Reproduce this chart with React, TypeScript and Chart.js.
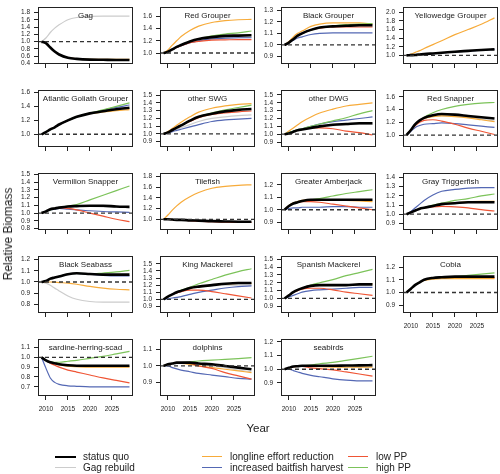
import React, { useEffect, useRef } from "react";
import { Chart, registerables } from "chart.js";

Chart.register(...registerables);

// ---------- shared data ----------
const YEARS = [2009, 2010, 2011, 2012, 2013, 2015, 2017, 2020, 2023, 2026, 2029];
const X_TICKS = [2010, 2015, 2020, 2025];

const SERIES_NAMES = [
  "status quo",
  "Gag rebuild",
  "longline effort reduction",
  "increased baitfish harvest",
  "low PP",
  "high PP",
];
const SERIES_KEYS = ["sq", "gr", "ll", "bf", "lo", "hi"];
const SERIES_COLORS = ["#000000", "#cccccc", "#f7ab3a", "#5468b4", "#ef5535", "#7cc35a"];

// ---------- per-panel values ----------
// Gag
const gag_sq = [1.0, 0.96, 0.84, 0.73, 0.65, 0.56, 0.53, 0.51, 0.505, 0.5, 0.5];
const gag_gr = [1.0, 1.1, 1.25, 1.37, 1.46, 1.6, 1.66, 1.69, 1.7, 1.7, 1.7];
const gag_ll = [1.0, 0.96, 0.84, 0.73, 0.65, 0.565, 0.535, 0.515, 0.515, 0.52, 0.52];
const gag_ticks = [0.4, 0.6, 0.8, 1.0, 1.2, 1.4, 1.6, 1.8];

// Red Grouper
const rgr_sq = [1.0, 1.02, 1.06, 1.1, 1.13, 1.19, 1.23, 1.26, 1.28, 1.285, 1.29];
const rgr_gr = [1.0, 1.02, 1.05, 1.09, 1.12, 1.17, 1.2, 1.23, 1.245, 1.25, 1.255];
const rgr_ll = [1.0, 1.05, 1.13, 1.2, 1.27, 1.37, 1.44, 1.5, 1.53, 1.545, 1.55];
const rgr_bf = [1.0, 1.02, 1.06, 1.09, 1.12, 1.17, 1.2, 1.23, 1.245, 1.25, 1.25];
const rgr_lo = [1.0, 1.02, 1.06, 1.09, 1.12, 1.17, 1.19, 1.21, 1.215, 1.22, 1.22];
const rgr_hi = [1.0, 1.02, 1.06, 1.1, 1.13, 1.19, 1.23, 1.28, 1.31, 1.33, 1.36];
const rgr_ticks = [1.0, 1.2, 1.4, 1.6];

// Black Grouper
const bgr_sq = [1.0, 1.02, 1.05, 1.08, 1.1, 1.13, 1.15, 1.16, 1.165, 1.17, 1.17];
const bgr_ll = [1.0, 1.03, 1.07, 1.1, 1.12, 1.16, 1.18, 1.19, 1.19, 1.19, 1.18];
const bgr_bf = [1.0, 1.02, 1.04, 1.06, 1.07, 1.09, 1.1, 1.105, 1.105, 1.105, 1.105];
const bgr_lo = [1.0, 1.02, 1.05, 1.08, 1.1, 1.13, 1.145, 1.155, 1.155, 1.155, 1.155];
const bgr_hi = [1.0, 1.02, 1.05, 1.08, 1.1, 1.13, 1.15, 1.165, 1.175, 1.18, 1.185];
const bgr_ticks = [0.9, 1.0, 1.1, 1.2, 1.3];

// Yellowedge Grouper
const ygr_sq = [1.0, 1.005, 1.01, 1.02, 1.03, 1.045, 1.06, 1.085, 1.105, 1.125, 1.14];
const ygr_ll = [1.0, 1.03, 1.07, 1.11, 1.16, 1.25, 1.34, 1.48, 1.6, 1.72, 1.87];
const ygr_bf = [1.0, 1.005, 1.01, 1.015, 1.025, 1.04, 1.055, 1.08, 1.1, 1.12, 1.14];
const ygr_ticks = [1.0, 1.2, 1.4, 1.6, 1.8, 2.0];

// Atlantic Goliath Grouper
const agg_sq = [1.0, 1.03, 1.07, 1.1, 1.14, 1.2, 1.25, 1.3, 1.33, 1.36, 1.38];
const agg_ll = [1.0, 1.03, 1.07, 1.1, 1.14, 1.2, 1.25, 1.295, 1.32, 1.34, 1.355];
const agg_bf = [1.0, 1.03, 1.07, 1.1, 1.14, 1.2, 1.25, 1.3, 1.345, 1.385, 1.42];
const agg_hi = [1.0, 1.03, 1.07, 1.1, 1.14, 1.2, 1.25, 1.305, 1.35, 1.4, 1.45];
const agg_ticks = [1.0, 1.2, 1.4, 1.6];

// other SWG
const swg_sq = [1.0, 1.02, 1.05, 1.08, 1.11, 1.17, 1.22, 1.26, 1.29, 1.31, 1.32];
const swg_gr = [1.0, 1.02, 1.04, 1.06, 1.08, 1.12, 1.16, 1.2, 1.22, 1.235, 1.245];
const swg_ll = [1.0, 1.03, 1.07, 1.11, 1.15, 1.22, 1.28, 1.33, 1.36, 1.38, 1.39];
const swg_bf = [1.0, 1.01, 1.03, 1.045, 1.06, 1.09, 1.12, 1.16, 1.18, 1.19, 1.2];
const swg_lo = [1.0, 1.02, 1.05, 1.08, 1.11, 1.16, 1.21, 1.25, 1.27, 1.285, 1.295];
const swg_hi = [1.0, 1.02, 1.05, 1.08, 1.11, 1.17, 1.22, 1.27, 1.31, 1.34, 1.37];
const swg_ticks = [0.9, 1.0, 1.1, 1.2, 1.3, 1.4, 1.5];

// other DWG
const dwg_sq = [1.0, 1.01, 1.03, 1.05, 1.06, 1.08, 1.1, 1.12, 1.13, 1.14, 1.14];
const dwg_gr = [1.0, 1.01, 1.03, 1.05, 1.06, 1.08, 1.095, 1.11, 1.12, 1.125, 1.125];
const dwg_ll = [1.0, 1.04, 1.08, 1.12, 1.16, 1.22, 1.27, 1.32, 1.36, 1.38, 1.4];
const dwg_bf = [1.0, 1.02, 1.04, 1.06, 1.07, 1.1, 1.13, 1.16, 1.18, 1.2, 1.22];
const dwg_lo = [1.0, 1.01, 1.03, 1.05, 1.06, 1.08, 1.08, 1.07, 1.04, 1.02, 0.99];
const dwg_hi = [1.0, 1.02, 1.04, 1.06, 1.07, 1.1, 1.13, 1.17, 1.21, 1.26, 1.3];
const dwg_ticks = [0.9, 1.0, 1.1, 1.2, 1.3, 1.4, 1.5];

// Red Snapper
const rsn_sq = [1.0, 1.08, 1.17, 1.23, 1.27, 1.31, 1.33, 1.32, 1.3, 1.28, 1.26];
const rsn_gr = [1.0, 1.08, 1.17, 1.23, 1.265, 1.295, 1.305, 1.3, 1.28, 1.25, 1.22];
const rsn_ll = [1.0, 1.08, 1.17, 1.23, 1.26, 1.29, 1.3, 1.29, 1.27, 1.24, 1.21];
const rsn_bf = [1.0, 1.06, 1.12, 1.15, 1.17, 1.18, 1.19, 1.18, 1.16, 1.14, 1.12];
const rsn_lo = [1.0, 1.08, 1.15, 1.2, 1.23, 1.24, 1.22, 1.17, 1.11, 1.06, 1.01];
const rsn_hi = [1.0, 1.08, 1.17, 1.23, 1.28, 1.35, 1.4, 1.45, 1.48, 1.5, 1.51];
const rsn_ticks = [1.0, 1.2, 1.4, 1.6];

// Vermilion Snapper
const vsn_sq = [1.0, 1.02, 1.05, 1.06, 1.07, 1.085, 1.09, 1.095, 1.095, 1.085, 1.08];
const vsn_gr = [1.0, 1.02, 1.05, 1.06, 1.07, 1.08, 1.085, 1.085, 1.08, 1.075, 1.07];
const vsn_bf = [1.0, 1.02, 1.04, 1.05, 1.06, 1.05, 1.04, 1.03, 1.02, 1.015, 1.01];
const vsn_lo = [1.0, 1.02, 1.05, 1.06, 1.07, 1.06, 1.04, 1.0, 0.96, 0.92, 0.89];
const vsn_hi = [1.0, 1.02, 1.04, 1.06, 1.07, 1.09, 1.11, 1.17, 1.23, 1.29, 1.35];
const vsn_ticks = [0.8, 0.9, 1.0, 1.1, 1.2, 1.3, 1.4, 1.5];

// Tilefish
const til_sq = [1.0, 1.0, 0.995, 0.99, 0.99, 0.98, 0.975, 0.965, 0.96, 0.955, 0.955];
const til_ll = [1.0, 1.08, 1.17, 1.25, 1.32, 1.42, 1.5, 1.58, 1.615, 1.635, 1.645];
const til_lo = [1.0, 1.0, 0.995, 0.99, 0.985, 0.975, 0.965, 0.955, 0.945, 0.94, 0.94];
const til_ticks = [1.0, 1.2, 1.4, 1.6, 1.8];

// Greater Amberjack
const gam_sq = [1.0, 1.03, 1.05, 1.06, 1.07, 1.08, 1.08, 1.08, 1.08, 1.08, 1.08];
const gam_ll = [1.0, 1.035, 1.055, 1.065, 1.075, 1.08, 1.08, 1.08, 1.075, 1.07, 1.065];
const gam_bf = [1.0, 1.01, 1.015, 1.015, 1.02, 1.02, 1.02, 1.025, 1.025, 1.02, 1.02];
const gam_lo = [1.0, 1.03, 1.05, 1.06, 1.065, 1.065, 1.06, 1.045, 1.03, 1.015, 1.0];
const gam_hi = [1.0, 1.03, 1.05, 1.06, 1.07, 1.08, 1.09, 1.11, 1.13, 1.145, 1.16];
const gam_ticks = [0.9, 1.0, 1.1, 1.2];

// Gray Triggerfish
const gtf_sq = [1.0, 1.02, 1.04, 1.06, 1.07, 1.09, 1.11, 1.12, 1.13, 1.13, 1.13];
const gtf_ll = [1.0, 1.02, 1.04, 1.06, 1.07, 1.09, 1.11, 1.125, 1.135, 1.14, 1.14];
const gtf_bf = [1.0, 1.03, 1.07, 1.11, 1.15, 1.21, 1.25, 1.27, 1.285, 1.29, 1.29];
const gtf_lo = [1.0, 1.02, 1.04, 1.06, 1.07, 1.08, 1.085, 1.08, 1.07, 1.05, 1.035];
const gtf_hi = [1.0, 1.02, 1.04, 1.06, 1.07, 1.1, 1.12, 1.15, 1.17, 1.2, 1.22];
const gtf_ticks = [0.9, 1.0, 1.1, 1.2, 1.3, 1.4];

// Black Seabass
const bsb_sq = [1.0, 1.01, 1.03, 1.04, 1.05, 1.07, 1.078, 1.072, 1.066, 1.066, 1.066];
const bsb_gr = [1.0, 0.99, 0.97, 0.945, 0.92, 0.875, 0.845, 0.825, 0.82, 0.82, 0.82];
const bsb_ll = [1.0, 1.0, 1.0, 0.998, 0.995, 0.99, 0.98, 0.96, 0.945, 0.935, 0.93];
const bsb_bf = [1.0, 1.01, 1.03, 1.04, 1.05, 1.07, 1.078, 1.07, 1.06, 1.055, 1.055];
const bsb_hi = [1.0, 1.01, 1.03, 1.04, 1.05, 1.07, 1.078, 1.072, 1.08, 1.09, 1.105];
const bsb_ticks = [0.8, 0.9, 1.0, 1.1, 1.2];

// King Mackerel
const kmk_sq = [1.0, 1.04, 1.07, 1.1, 1.12, 1.16, 1.18, 1.2, 1.22, 1.23, 1.23];
const kmk_gr = [1.0, 1.04, 1.07, 1.09, 1.11, 1.15, 1.17, 1.19, 1.2, 1.2, 1.2];
const kmk_ll = [1.0, 1.04, 1.07, 1.1, 1.12, 1.16, 1.18, 1.2, 1.215, 1.225, 1.225];
const kmk_bf = [1.0, 1.01, 1.02, 1.03, 1.04, 1.07, 1.1, 1.13, 1.16, 1.18, 1.19];
const kmk_lo = [1.0, 1.04, 1.07, 1.09, 1.11, 1.13, 1.13, 1.11, 1.08, 1.05, 1.02];
const kmk_hi = [1.0, 1.04, 1.07, 1.1, 1.13, 1.17, 1.22, 1.28, 1.34, 1.39, 1.43];
const kmk_ticks = [0.9, 1.0, 1.1, 1.2, 1.3, 1.4, 1.5];

// Spanish Mackerel
const smk_sq = [1.0, 1.04, 1.08, 1.11, 1.13, 1.16, 1.17, 1.17, 1.17, 1.18, 1.18];
const smk_ll = [1.0, 1.04, 1.08, 1.11, 1.13, 1.16, 1.17, 1.17, 1.175, 1.18, 1.185];
const smk_bf = [1.0, 1.02, 1.04, 1.06, 1.08, 1.1, 1.11, 1.12, 1.13, 1.14, 1.14];
const smk_lo = [1.0, 1.04, 1.08, 1.1, 1.12, 1.13, 1.13, 1.11, 1.08, 1.06, 1.04];
const smk_hi = [1.0, 1.04, 1.08, 1.11, 1.13, 1.17, 1.2, 1.24, 1.29, 1.33, 1.37];
const smk_ticks = [0.9, 1.0, 1.1, 1.2, 1.3, 1.4, 1.5];

// Cobia
const cob_sq = [1.0, 1.03, 1.06, 1.08, 1.1, 1.115, 1.12, 1.125, 1.125, 1.125, 1.125];
const cob_ll = [1.0, 1.03, 1.06, 1.08, 1.095, 1.105, 1.11, 1.11, 1.11, 1.11, 1.11];
const cob_lo = [1.0, 1.03, 1.06, 1.08, 1.1, 1.115, 1.12, 1.12, 1.12, 1.12, 1.118];
const cob_hi = [1.0, 1.03, 1.06, 1.08, 1.1, 1.115, 1.12, 1.125, 1.135, 1.145, 1.155];
const cob_ticks = [0.9, 1.0, 1.1, 1.2];

// sardine-herring-scad
const shs_sq = [1.0, 0.97, 0.95, 0.94, 0.93, 0.92, 0.915, 0.915, 0.915, 0.915, 0.915];
const shs_gr = [1.0, 0.97, 0.95, 0.935, 0.925, 0.91, 0.905, 0.905, 0.905, 0.905, 0.905];
const shs_ll = [1.0, 0.97, 0.95, 0.935, 0.925, 0.91, 0.905, 0.9, 0.9, 0.9, 0.9];
const shs_bf = [1.0, 0.89, 0.79, 0.745, 0.725, 0.71, 0.705, 0.7, 0.7, 0.7, 0.7];
const shs_lo = [1.0, 0.97, 0.94, 0.92, 0.9, 0.87, 0.85, 0.82, 0.79, 0.765, 0.74];
const shs_hi = [1.0, 0.97, 0.955, 0.95, 0.95, 0.96, 0.97, 0.99, 1.01, 1.035, 1.06];
const shs_ticks = [0.7, 0.8, 0.9, 1.0, 1.1];

// dolphins
const dol_sq = [1.0, 1.01, 1.015, 1.02, 1.02, 1.02, 1.015, 1.01, 1.0, 0.99, 0.98];
const dol_gr = [1.0, 1.01, 1.015, 1.02, 1.02, 1.015, 1.01, 1.0, 0.99, 0.975, 0.965];
const dol_ll = [1.0, 1.01, 1.015, 1.015, 1.015, 1.01, 1.0, 0.99, 0.98, 0.97, 0.96];
const dol_bf = [1.0, 1.0, 0.99, 0.982, 0.975, 0.965, 0.955, 0.945, 0.935, 0.925, 0.92];
const dol_lo = [1.0, 1.01, 1.015, 1.015, 1.015, 1.015, 1.0, 0.985, 0.96, 0.94, 0.92];
const dol_hi = [1.0, 1.01, 1.015, 1.02, 1.02, 1.025, 1.03, 1.035, 1.04, 1.045, 1.05];
const dol_ticks = [0.9, 1.0, 1.1];

// seabirds
const sbd_sq = [1.0, 1.01, 1.02, 1.022, 1.025, 1.025, 1.025, 1.025, 1.027, 1.028, 1.03];
const sbd_ll = [1.0, 1.01, 1.018, 1.02, 1.02, 1.02, 1.018, 1.016, 1.015, 1.015, 1.015];
const sbd_bf = [1.0, 1.0, 0.99, 0.98, 0.97, 0.955, 0.945, 0.93, 0.92, 0.915, 0.915];
const sbd_lo = [1.0, 1.01, 1.018, 1.02, 1.02, 1.01, 1.005, 0.995, 0.98, 0.965, 0.95];
const sbd_hi = [1.0, 1.01, 1.02, 1.022, 1.025, 1.03, 1.04, 1.05, 1.065, 1.08, 1.095];
const sbd_ticks = [0.9, 1.0, 1.1, 1.2];

// ---------- panel table ----------
type Panel = {
  title: string;
  row: number;
  col: number;
  yMin: number;
  yMax: number;
  ticks: number[];
  xLabels: boolean;
  series: { [k: string]: number[] | undefined };
};

const PANELS: Panel[] = [
  { title: "Gag", row: 0, col: 0, yMin: 0.39, yMax: 1.95, ticks: gag_ticks, xLabels: false, series: { sq: gag_sq, gr: gag_gr, ll: gag_ll } },
  { title: "Red Grouper", row: 0, col: 1, yMin: 0.82, yMax: 1.755, ticks: rgr_ticks, xLabels: false, series: { sq: rgr_sq, gr: rgr_gr, ll: rgr_ll, bf: rgr_bf, lo: rgr_lo, hi: rgr_hi } },
  { title: "Black Grouper", row: 0, col: 2, yMin: 0.836, yMax: 1.328, ticks: bgr_ticks, xLabels: false, series: { sq: bgr_sq, ll: bgr_ll, bf: bgr_bf, lo: bgr_lo, hi: bgr_hi } },
  { title: "Yellowedge Grouper", row: 0, col: 3, yMin: 0.8, yMax: 2.124, ticks: ygr_ticks, xLabels: false, series: { sq: ygr_sq, ll: ygr_ll, bf: ygr_bf } },
  { title: "Atlantic Goliath Grouper", row: 1, col: 0, yMin: 0.817, yMax: 1.637, ticks: agg_ticks, xLabels: false, series: { sq: agg_sq, ll: agg_ll, bf: agg_bf, hi: agg_hi } },
  { title: "other SWG", row: 1, col: 1, yMin: 0.831, yMax: 1.567, ticks: swg_ticks, xLabels: false, series: { sq: swg_sq, gr: swg_gr, ll: swg_ll, bf: swg_bf, lo: swg_lo, hi: swg_hi } },
  { title: "other DWG", row: 1, col: 2, yMin: 0.837, yMax: 1.565, ticks: dwg_ticks, xLabels: false, series: { sq: dwg_sq, gr: dwg_gr, ll: dwg_ll, bf: dwg_bf, lo: dwg_lo, hi: dwg_hi } },
  { title: "Red Snapper", row: 1, col: 3, yMin: 0.814, yMax: 1.707, ticks: rsn_ticks, xLabels: false, series: { sq: rsn_sq, gr: rsn_gr, ll: rsn_ll, bf: rsn_bf, lo: rsn_lo, hi: rsn_hi } },
  { title: "Vermilion Snapper", row: 2, col: 0, yMin: 0.781, yMax: 1.519, ticks: vsn_ticks, xLabels: false, series: { sq: vsn_sq, gr: vsn_gr, bf: vsn_bf, lo: vsn_lo, hi: vsn_hi } },
  { title: "Tilefish", row: 2, col: 1, yMin: 0.8, yMax: 1.867, ticks: til_ticks, xLabels: false, series: { sq: til_sq, ll: til_ll, lo: til_lo } },
  { title: "Greater Amberjack", row: 2, col: 2, yMin: 0.838, yMax: 1.295, ticks: gam_ticks, xLabels: false, series: { sq: gam_sq, ll: gam_ll, bf: gam_bf, lo: gam_lo, hi: gam_hi } },
  { title: "Gray Triggerfish", row: 2, col: 3, yMin: 0.828, yMax: 1.45, ticks: gtf_ticks, xLabels: false, series: { sq: gtf_sq, ll: gtf_ll, bf: gtf_bf, lo: gtf_lo, hi: gtf_hi } },
  { title: "Black Seabass", row: 3, col: 0, yMin: 0.722, yMax: 1.234, ticks: bsb_ticks, xLabels: false, series: { sq: bsb_sq, gr: bsb_gr, ll: bsb_ll, bf: bsb_bf, hi: bsb_hi } },
  { title: "King Mackerel", row: 3, col: 1, yMin: 0.81, yMax: 1.61, ticks: kmk_ticks, xLabels: false, series: { sq: kmk_sq, gr: kmk_gr, ll: kmk_ll, bf: kmk_bf, lo: kmk_lo, hi: kmk_hi } },
  { title: "Spanish Mackerel", row: 3, col: 2, yMin: 0.815, yMax: 1.542, ticks: smk_ticks, xLabels: false, series: { sq: smk_sq, ll: smk_ll, bf: smk_bf, lo: smk_lo, hi: smk_hi } },
  { title: "Cobia", row: 3, col: 3, yMin: 0.838, yMax: 1.289, ticks: cob_ticks, xLabels: true, series: { sq: cob_sq, ll: cob_ll, lo: cob_lo, hi: cob_hi } },
  { title: "sardine-herring-scad", row: 4, col: 0, yMin: 0.606, yMax: 1.188, ticks: shs_ticks, xLabels: true, series: { sq: shs_sq, gr: shs_gr, ll: shs_ll, bf: shs_bf, lo: shs_lo, hi: shs_hi } },
  { title: "dolphins", row: 4, col: 1, yMin: 0.818, yMax: 1.164, ticks: dol_ticks, xLabels: true, series: { sq: dol_sq, gr: dol_gr, ll: dol_ll, bf: dol_bf, lo: dol_lo, hi: dol_hi } },
  { title: "seabirds", row: 4, col: 2, yMin: 0.804, yMax: 1.222, ticks: sbd_ticks, xLabels: true, series: { sq: sbd_sq, ll: sbd_ll, bf: sbd_bf, lo: sbd_lo, hi: sbd_hi } },
];

// ---------- layout ----------
const COL_LEFT = [38, 160, 281, 403];
const ROW_TOP = [0, 83, 166, 249, 332];
const BOX_W = 95;
const BOX_H = 64;
const AX_W = 30;
const AX_H = 20;
const PAD_T = 1;
const PAD_R = 3;
const X_MIN = 2008.2;
const X_MAX = 2029.8;
const FONT = "'Liberation Sans', Arial, sans-serif";
const INK = "#222222";

const panelDecor = {
  id: "panelDecor",
  afterDatasetsDraw(chart: any, _args: any, opts: any) {
    const { ctx, chartArea, scales } = chart;
    const { left, right, top, bottom } = chartArea;
    ctx.save();
    // reference line at 1
    const y1 = scales.y.getPixelForValue(1);
    ctx.beginPath();
    ctx.setLineDash([4, 3]);
    ctx.lineWidth = 1.3;
    ctx.strokeStyle = "#333333";
    ctx.moveTo(left, y1);
    ctx.lineTo(right, y1);
    ctx.stroke();
    ctx.setLineDash([]);
    // box
    ctx.lineWidth = 1;
    ctx.strokeStyle = INK;
    ctx.strokeRect(Math.round(left) + 0.5, Math.round(top) + 0.5, Math.round(right - left) - 1, Math.round(bottom - top) - 1);
    // title
    ctx.fillStyle = INK;
    ctx.font = `8px ${FONT}`;
    ctx.textAlign = "center";
    ctx.textBaseline = "middle";
    ctx.fillText(opts.title, (left + right) / 2, top + 8.5);
    ctx.restore();
  },
};

function PanelChart({ p }: { p: Panel }) {
  const ref = useRef<HTMLCanvasElement | null>(null);
  useEffect(() => {
    if (!ref.current) return;
    const datasets: any[] = [];
    SERIES_KEYS.forEach((k, i) => {
      const vals = p.series[k];
      if (!vals) return;
      datasets.push({
        label: SERIES_NAMES[i],
        data: YEARS.map((yr, j) => ({ x: yr, y: vals[j] })),
        borderColor: SERIES_COLORS[i],
        borderWidth: i === 0 ? 2.6 : 1.2,
        pointRadius: 0,
        fill: false,
        cubicInterpolationMode: "monotone",
        order: i === 0 ? 0 : 10 - i,
      });
    });
    const chart = new Chart(ref.current, {
      type: "line",
      data: { datasets },
      plugins: [panelDecor],
      options: {
        animation: false,
        responsive: false,
        maintainAspectRatio: false,
        devicePixelRatio: 1,
        layout: { padding: { top: PAD_T, right: PAD_R, left: 0, bottom: 0 } },
        plugins: {
          legend: { display: false },
          tooltip: { enabled: false },
          title: { display: false },
          panelDecor: { title: p.title },
        } as any,
        scales: {
          x: {
            type: "linear",
            min: X_MIN,
            max: X_MAX,
            afterBuildTicks: (s: any) => {
              s.ticks = X_TICKS.map((v) => ({ value: v }));
            },
            afterFit: (s: any) => {
              s.height = AX_H;
            },
            grid: { drawOnChartArea: false, drawTicks: true, tickLength: 4, color: INK, lineWidth: 1 },
            border: { display: false },
            ticks: {
              autoSkip: false,
              maxRotation: 0,
              padding: 5,
              color: p.xLabels ? INK : "rgba(0,0,0,0)",
              font: { size: 6.5, family: FONT },
              callback: (v: any) => String(v),
            },
          },
          y: {
            type: "linear",
            min: p.yMin,
            max: p.yMax,
            afterBuildTicks: (s: any) => {
              s.ticks = p.ticks.map((v) => ({ value: v }));
            },
            afterFit: (s: any) => {
              s.width = AX_W;
            },
            grid: { drawOnChartArea: false, drawTicks: true, tickLength: 4, color: INK, lineWidth: 1 },
            border: { display: false },
            ticks: {
              autoSkip: false,
              padding: 4,
              color: INK,
              font: { size: 6.5, family: FONT },
              callback: (v: any) => Number(v).toFixed(1),
            },
          },
        },
      } as any,
    });
    return () => chart.destroy();
  }, [p]);

  const w = AX_W + BOX_W + PAD_R;
  const h = PAD_T + BOX_H + AX_H;
  return (
    <canvas
      ref={ref}
      width={w}
      height={h}
      style={{
        position: "absolute",
        left: COL_LEFT[p.col] - AX_W,
        top: ROW_TOP[p.row] - PAD_T,
        width: w,
        height: h,
      }}
    />
  );
}

// legend layout: [column x of swatch, swatch width, text x], rows y
const LEGEND_COLS = [
  { lx: 55, lw: 21, tx: 83 },
  { lx: 202, lw: 20, tx: 230 },
  { lx: 348, lw: 20, tx: 376 },
];
const LEGEND_ROWS = [456.7, 467.7];

export default function App() {
  return (
    <div
      style={{
        position: "absolute",
        left: 0,
        top: 0,
        width: 500,
        height: 474,
        background: "#ffffff",
        overflow: "hidden",
        fontFamily: FONT,
        color: INK,
      }}
    >
      {PANELS.map((p) => (
        <PanelChart key={p.title} p={p} />
      ))}
      <div
        style={{
          position: "absolute",
          left: 8,
          top: 234,
          transform: "translate(-50%, -50%) rotate(-90deg)",
          whiteSpace: "nowrap",
          fontSize: 12,
          lineHeight: "14px",
        }}
      >
        Relative Biomass
      </div>
      <div
        style={{
          position: "absolute",
          left: 258,
          top: 428,
          transform: "translate(-50%, -50%)",
          whiteSpace: "nowrap",
          fontSize: 11.5,
          lineHeight: "14px",
        }}
      >
        Year
      </div>
      {SERIES_NAMES.map((name, i) => {
        const c = LEGEND_COLS[Math.floor(i / 2)];
        const y = LEGEND_ROWS[i % 2];
        const lw = i === 0 ? 2 : 1.2;
        return (
          <React.Fragment key={name}>
            <div
              style={{
                position: "absolute",
                left: c.lx,
                top: y - lw / 2,
                width: c.lw,
                height: lw,
                background: SERIES_COLORS[i],
              }}
            />
            <div
              style={{
                position: "absolute",
                left: c.tx,
                top: y,
                transform: "translateY(-50%)",
                whiteSpace: "nowrap",
                fontSize: 10,
                lineHeight: "12px",
              }}
            >
              {name}
            </div>
          </React.Fragment>
        );
      })}
    </div>
  );
}
